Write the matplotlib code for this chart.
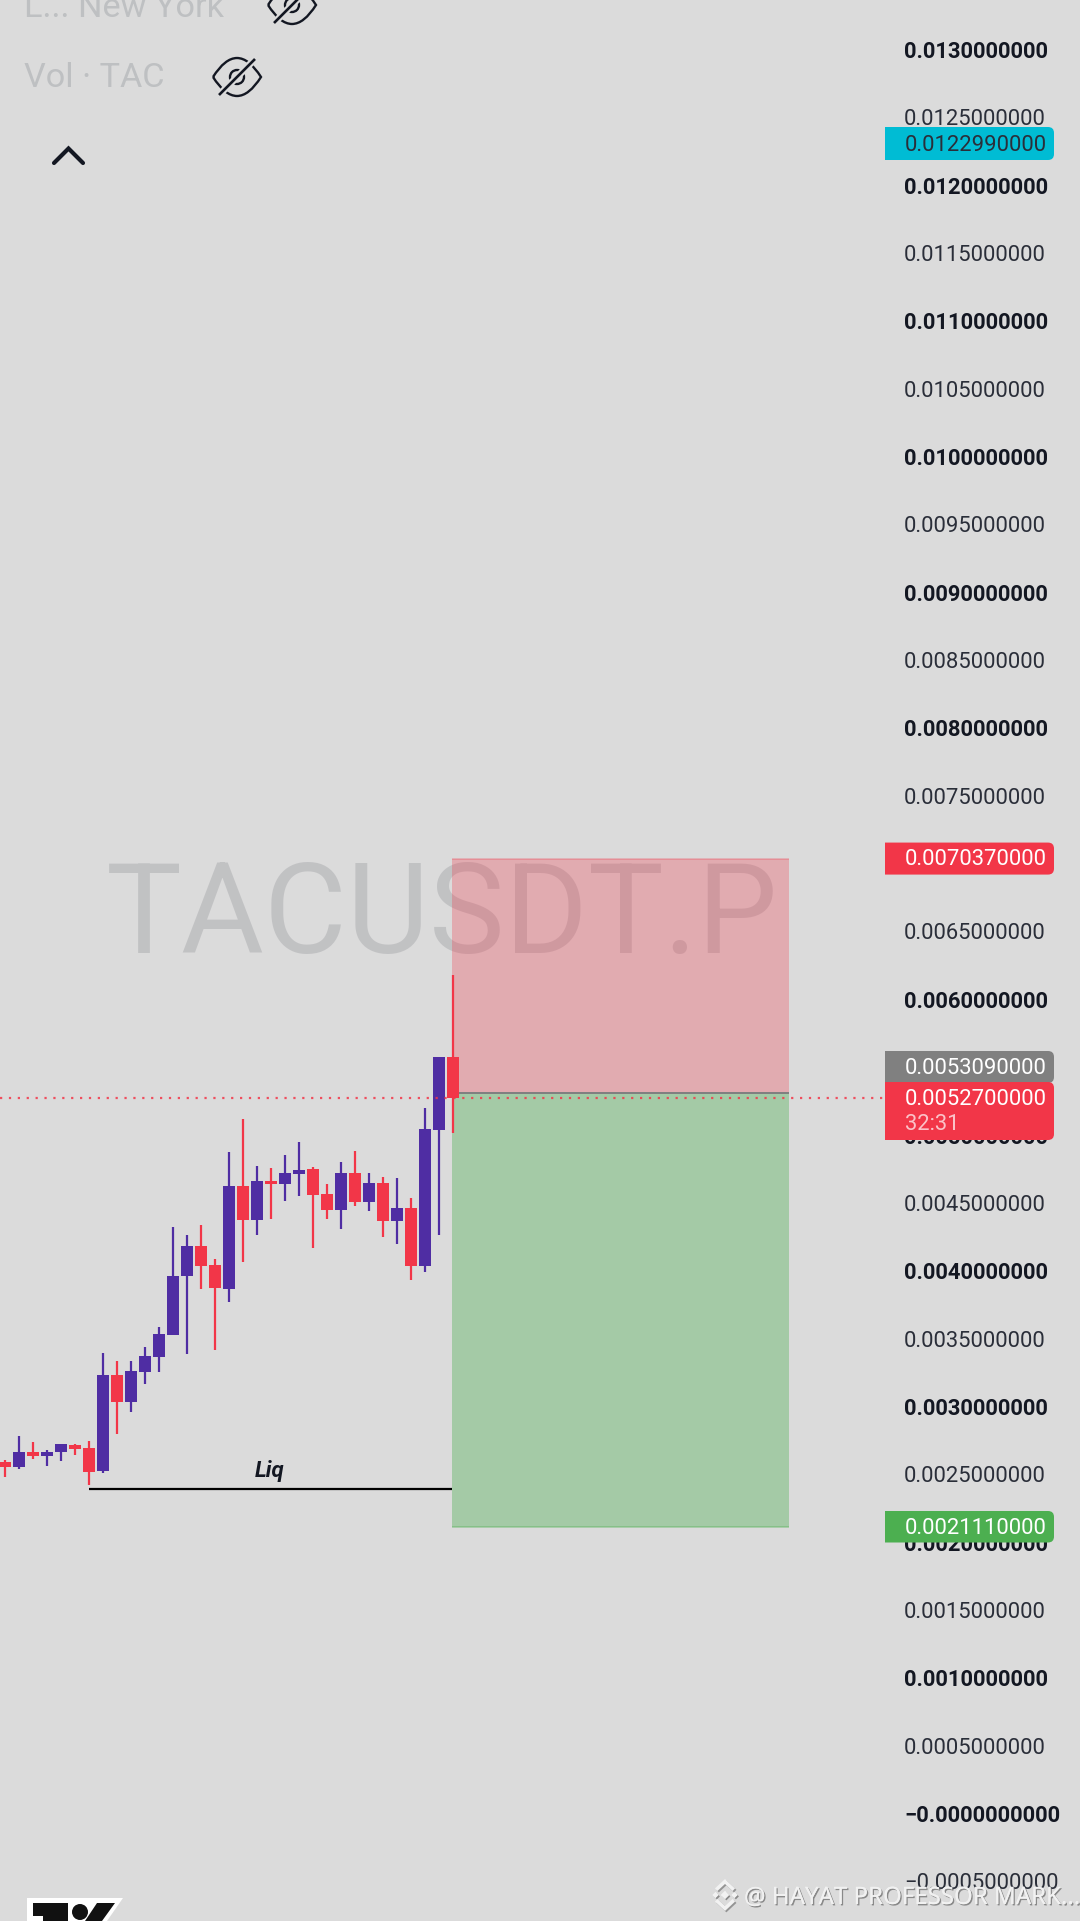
import matplotlib
matplotlib.use("Agg")
import matplotlib.pyplot as plt
from matplotlib.patches import PathPatch, Polygon, Circle
from matplotlib.path import Path
import matplotlib.patheffects as pe

plt.rcParams['font.family'] = ['Roboto', 'DejaVu Sans']

BG = '#DBDBDB'
UP = '#4F2DA3'
DOWN = '#F23648'

# candles, oldest first
opens = [0.002593, 0.002554, 0.002662, 0.002633, 0.002662, 0.002716, 0.002692, 0.002525, 0.003230,
         0.003033, 0.003255, 0.003365, 0.003525, 0.003960, 0.004181, 0.004041, 0.003864, 0.004624,
         0.004373, 0.004661, 0.004639, 0.004712, 0.004749, 0.004565, 0.004447, 0.004720, 0.004506,
         0.004646, 0.004366, 0.004462, 0.004034, 0.005037, 0.005575]
closes = [0.002554, 0.002662, 0.002633, 0.002667, 0.002721, 0.002684, 0.002517, 0.003230, 0.003033,
          0.003260, 0.003370, 0.003532, 0.003960, 0.004181, 0.004034, 0.003872, 0.004624, 0.004373,
          0.004661, 0.004641, 0.004720, 0.004742, 0.004558, 0.004447, 0.004720, 0.004506, 0.004646,
          0.004366, 0.004462, 0.004034, 0.005044, 0.005575, 0.005270]
highs = [0.002603, 0.002780, 0.002736, 0.002682, 0.002726, 0.002726, 0.002743, 0.003392, 0.003333,
         0.003333, 0.003437, 0.003584, 0.004322, 0.004263, 0.004336, 0.004086, 0.004875, 0.005118,
         0.004771, 0.004757, 0.004852, 0.004948, 0.004764, 0.004639, 0.004801, 0.004882, 0.004720,
         0.004690, 0.004683, 0.004535, 0.005199, 0.005575, 0.006180]
lows = [0.002480, 0.002539, 0.002613, 0.002561, 0.002598, 0.002642, 0.002421, 0.002510, 0.002797,
        0.002957, 0.003166, 0.003255, 0.003525, 0.003387, 0.003864, 0.003417, 0.003771, 0.004063,
        0.004263, 0.004383, 0.004513, 0.004550, 0.004167, 0.004383, 0.004307, 0.004476, 0.004440,
        0.004248, 0.004196, 0.003931, 0.003990, 0.004263, 0.005017]

# position tool and levels
target_price = 0.007037
entry_price = 0.005309
stop_price = 0.002111
last_price = 0.005270
alert_price = 0.012299
liq_price = 0.002390

tick_labels = ['0.0130000000', '0.0125000000', '0.0120000000', '0.0115000000', '0.0110000000',
               '0.0105000000', '0.0100000000', '0.0095000000', '0.0090000000', '0.0085000000',
               '0.0080000000', '0.0075000000', '0.0070000000', '0.0065000000', '0.0060000000',
               '0.0055000000', '0.0050000000', '0.0045000000', '0.0040000000', '0.0035000000',
               '0.0030000000', '0.0025000000', '0.0020000000', '0.0015000000', '0.0010000000',
               '0.0005000000', '\u22120.0000000000', '\u22120.0005000000']
tick_values = [float(t.replace('\u2212', '-')) for t in tick_labels]


fig = plt.figure(figsize=(10.8, 19.21), dpi=100, facecolor=BG)

# main pane, the price scale hangs off its right side
ax = fig.add_axes([0, 0, 885 / 1080, 1], facecolor=BG)
ax.set_xlim(-5 / 14, 880 / 14)
ax.set_ylim(-107.5 / 135700, 1813.5 / 135700)
for s in ax.spines.values():
    s.set_visible(False)
ax.set_xticks([])
ax.yaxis.tick_right()
ax.set_yticks(tick_values)
ax.set_yticklabels(tick_labels)
ax.tick_params(axis='y', length=0, pad=13.7, labelsize=15.8, labelcolor='#2A2E39')
for lab, val in zip(ax.get_yticklabels(), tick_values):
    if round(val * 10000) % 10 == 0:
        lab.set_fontweight('bold')
        lab.set_color('#131722')

# symbol watermark
ax.text(0.5, 1 - 953 / 1921, 'TACUSDT.P', transform=ax.transAxes, ha='center', va='baseline',
        fontsize=91.5, color=(125 / 255, 127 / 255, 133 / 255, 0.27), zorder=1)

# long/short box
box_left = 31.93
box_right = 56
ax.fill_between([box_left, box_right], entry_price, target_price, color=DOWN, alpha=0.29, lw=0, zorder=2)
ax.fill_between([box_left, box_right], stop_price, entry_price, color='#4CAF50', alpha=0.38, lw=0, zorder=2)
ax.hlines(target_price, box_left, box_right, color=DOWN, alpha=0.25, lw=1.4, zorder=2)
ax.hlines(stop_price, box_left, box_right, color='#4CAF50', alpha=0.35, lw=1.4, zorder=2)
ax.hlines(entry_price, box_left, box_right, color='#808080', lw=1.44, zorder=3)

# candles
xs = list(range(len(opens)))
colors = [UP if c > o else DOWN for o, c in zip(opens, closes)]
ax.vlines(xs, lows, highs, colors=colors, lw=1.6, zorder=4)
ax.bar(xs, [abs(c - o) for o, c in zip(opens, closes)], bottom=[min(o, c) for o, c in zip(opens, closes)],
       width=12 / 14, color=colors, lw=0, zorder=5)

# last price line
ax.hlines(last_price, ax.get_xlim()[0], ax.get_xlim()[1], color=DOWN, lw=1.6,
          linestyles=(0, (1, 3)), zorder=6, alpha=0.85)

# liq line
ax.hlines(liq_price, 6, box_left, color='black', lw=1.6, zorder=6)
ax.text((6 + box_left) / 2 - 0.05, liq_price + 0.000132, 'Liq', ha='center', va='center', fontsize=16,
        fontstyle='italic', fontweight='bold', color='#131722', zorder=6)


# overlay in pixels for price tags, header and logos
top = fig.add_axes([0, 0, 1, 1], zorder=10)
top.set_xlim(0, 1080)
top.set_ylim(1921, 0)
top.axis('off')


def price_y(p):
    return 1921 - ax.transData.transform((0, p))[1]


def price_tag(y0, y1, color):
    x0, x1, r = 885, 1054, 6
    verts = [(x0, y0), (x1 - r, y0), (x1, y0), (x1, y0 + r), (x1, y1 - r), (x1, y1), (x1 - r, y1), (x0, y1), (x0, y0)]
    codes = [Path.MOVETO, Path.LINETO, Path.CURVE3, Path.CURVE3, Path.LINETO, Path.CURVE3, Path.CURVE3,
             Path.LINETO, Path.CLOSEPOLY]
    top.add_patch(PathPatch(Path(verts, codes), facecolor=color, edgecolor='none'))


def tag_text(y, s, color='white', alpha=1.0):
    top.text(904.5, y, s, ha='left', va='center_baseline', fontsize=15.8, color=color, alpha=alpha)


def eye(cx, cy):
    col = '#131722'
    verts = [(-24, 0), (-12, -19), (0, -19), (12, -19), (24, 0), (12, 19), (0, 19), (-12, 19), (-24, 0)]
    codes = [Path.MOVETO] + [Path.CURVE3] * 8
    top.add_patch(PathPatch(Path([(cx + a, cy + b) for a, b in verts], codes), fill=False, ec=col, lw=1.7))
    top.add_patch(Circle((cx, cy), 7, fill=False, ec=col, lw=1.7))
    top.plot([cx - 19, cx + 19], [cy + 19, cy - 19], color=BG, lw=5, solid_capstyle='butt')
    top.plot([cx - 18, cx + 18], [cy + 18, cy - 18], color=col, lw=1.9, solid_capstyle='butt')


price_tag(127, 160, '#00BCD4')
tag_text(143, f'{alert_price:.10f}', color='#2A2E39')
price_tag(price_y(target_price) - 16, price_y(target_price) + 16, DOWN)
tag_text(price_y(target_price) - 1.5, f'{target_price:.10f}')
price_tag(1051, 1083, '#808080')
tag_text(1066, f'{entry_price:.10f}')
price_tag(1082, 1140, DOWN)
tag_text(1097, f'{last_price:.10f}')
tag_text(1122.5, '32:31', alpha=0.7)
price_tag(1511, 1542.5, '#4CAF50')
tag_text(1526, f'{stop_price:.10f}')

# legend rows at the top
top.text(24.5, 17.3, 'L... New York', fontsize=24.7, color='#BEC0C2', va='baseline', clip_on=True)
top.text(24.5, 87.3, 'Vol \u00b7 TAC', fontsize=24.7, color='#BEC0C2', va='baseline')
eye(237, 77)
eye(292, 5)
top.plot([54, 68.5, 83], [163, 148.5, 163], color='#131722', lw=3, solid_capstyle='round', solid_joinstyle='miter')

# tradingview logo, cut by the bottom edge
top.add_patch(Polygon([(27, 1898), (123, 1898), (107, 1921), (27, 1921)], color='white', lw=0))
top.add_patch(Polygon([(33, 1903), (68, 1903), (68, 1921), (43, 1921), (43, 1916), (33, 1916)], color='#111111', lw=0))
top.add_patch(Circle((80, 1912), 8, color='#111111', lw=0))
top.add_patch(Polygon([(97, 1903), (115, 1903), (102, 1921), (85, 1921)], color='#111111', lw=0))

# binance share tag
shadow = [pe.withSimplePatchShadow(offset=(1, -1), shadow_rgbFace='#777777', alpha=0.8)]
top.text(744, 1895, '@ HAYAT PROFESSOR MARK...', fontsize=17.3, color='#F2F2F2', alpha=0.9, ha='left',
         va='center_baseline', family=['Noto Sans', 'DejaVu Sans'],
         path_effects=[pe.withSimplePatchShadow(offset=(1, -1), shadow_rgbFace='#666666', alpha=0.7), pe.Normal()])
bx, by = 725, 1895
for dx, dy, r in [(0, 0, 4), (-9.5, 0, 3), (9.5, 0, 3)]:
    top.add_patch(Polygon([(bx + dx - r, by + dy), (bx + dx, by + dy - r), (bx + dx + r, by + dy), (bx + dx, by + dy + r)],
                          color='#F2F2F2', lw=0, path_effects=shadow + [pe.Normal()]))
for sgn in (-1, 1):
    top.plot([bx - 7.5, bx, bx + 7.5], [by + sgn * 6.5, by + sgn * 13.5, by + sgn * 6.5], color='#F2F2F2', lw=2.6,
             solid_joinstyle='miter', path_effects=[pe.SimpleLineShadow(offset=(1, -1), shadow_color='#777777', alpha=0.7), pe.Normal()])

fig.savefig('out.png', dpi=100, facecolor=BG)
